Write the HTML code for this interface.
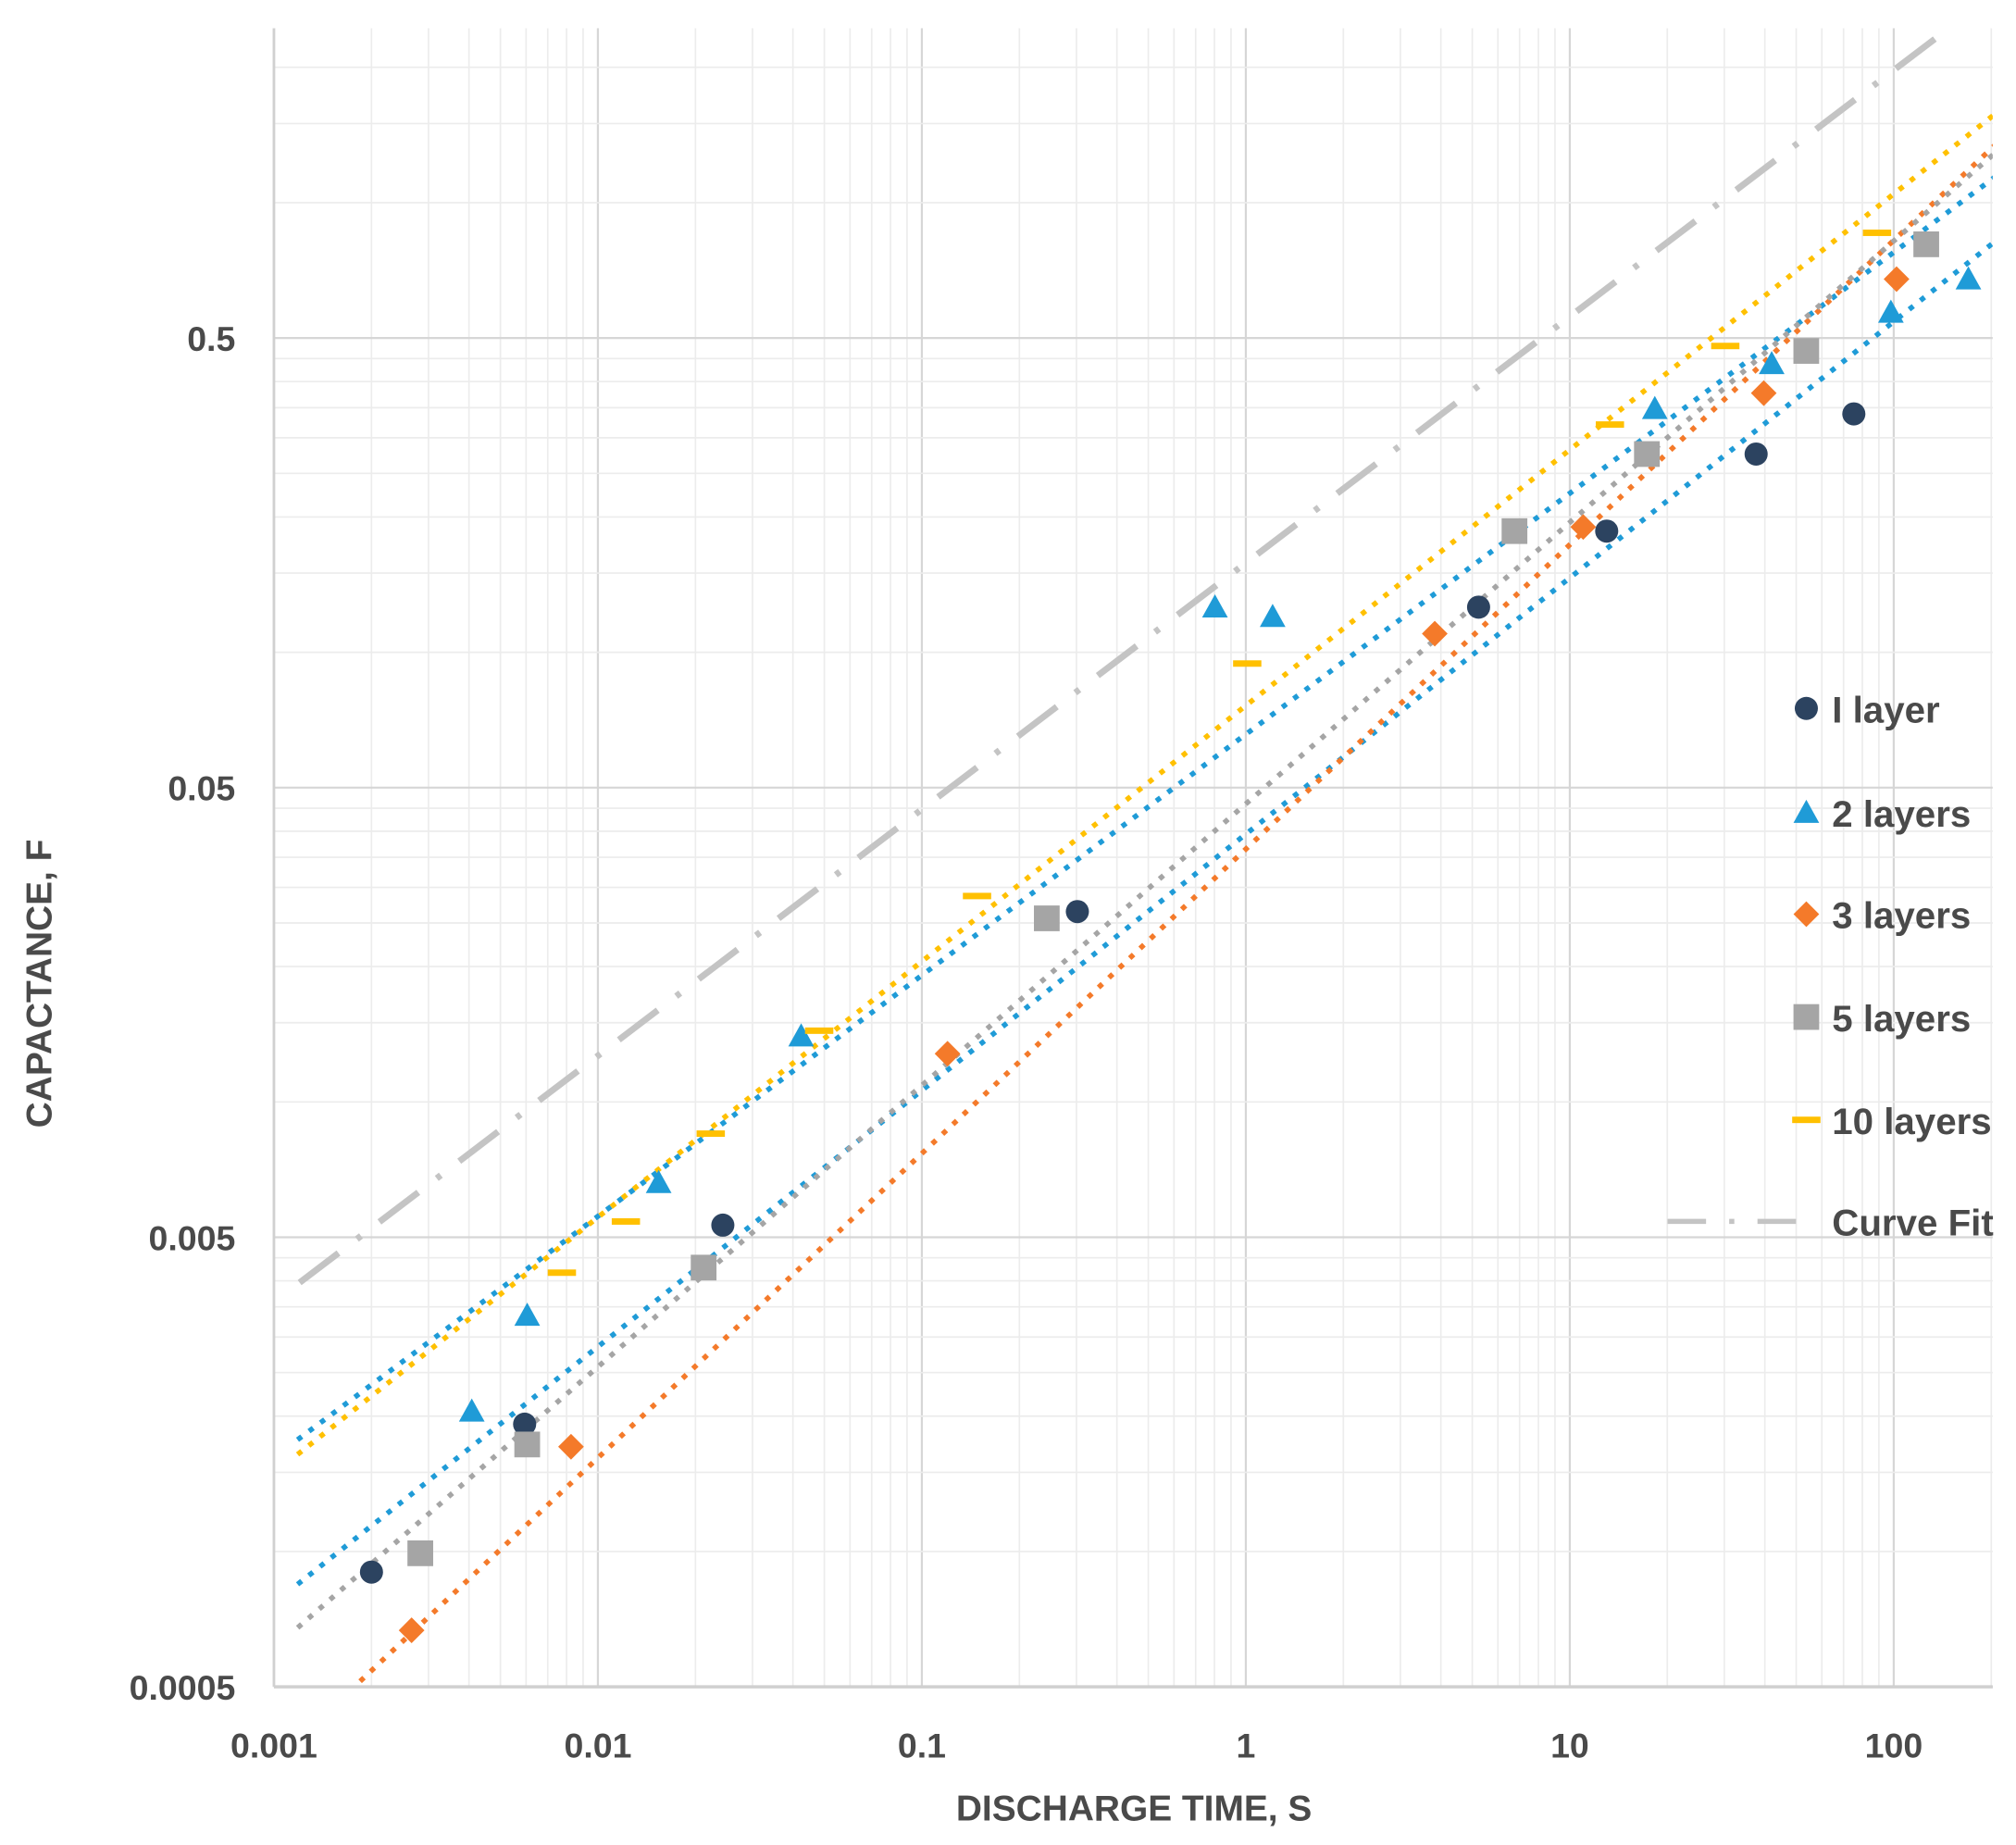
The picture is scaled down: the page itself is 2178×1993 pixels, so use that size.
<!DOCTYPE html>
<html><head><meta charset="utf-8"><style>
html,body{margin:0;padding:0;background:#fff;}
svg{display:block;}
text{font-family:"Liberation Sans",sans-serif;font-weight:bold;fill:#4a4a4a;}
</style></head><body>
<svg id="chart" width="2178" height="1993" viewBox="0 0 1568 1435" xmlns="http://www.w3.org/2000/svg">
<g id="grid"></g>
<g id="trends"></g>
<g id="marks"></g>
<g id="axes"></g>
<g id="legend"></g>
</svg>
<script>
const xTicks=[0.001,0.01,0.1,1,10,100];
const xTickLabels=["0.001","0.01","0.1","1","10","100"];
const yTicks=[0.0005,0.005,0.05,0.5];
const yTickLabels=["0.0005","0.005","0.05","0.5"];
const seriesNames=["I layer","2 layers","3 layers","5 layers","10 layers"];
const x1=[0.002,0.00594,0.0243,0.302,5.23,13.0,37.6,75.3];
const y1=[0.0009,0.00192,0.00532,0.0265,0.126,0.186,0.276,0.339];
const x2=[0.00408,0.00605,0.0154,0.0424,0.803,1.21,18.3,42,98,170];
const y2=[0.00205,0.00335,0.00661,0.014,0.126,0.12,0.348,0.438,0.57,0.676];
const x3=[0.00266,0.00826,0.12,3.83,11.0,39.7,102];
const y3=[0.000668,0.00171,0.0128,0.11,0.19,0.377,0.676];
const x5=[0.00283,0.00605,0.0212,0.243,6.75,17.3,53.7,126];
const y5=[0.000991,0.00173,0.00428,0.0256,0.186,0.276,0.468,0.808];
const x10=[0.00774,0.0122,0.0223,0.0482,0.148,1.01,13.3,30.2,88.8];
const y10=[0.00417,0.00542,0.0085,0.0144,0.0287,0.0944,0.321,0.48,0.857];
// power-law trends: exponent and value at x=1
const trendExp=[0.570,0.536,0.677,0.626,0.569];
const trendAt1=[0.0394,0.0657,0.0365,0.046,0.0761];
const fitExp=0.548, fitAt1=0.158;

const L=213,R=1550,T=22,B=1312;
const sx=v=>L+252*Math.log10(v/0.001);
const sy=v=>B-349.7*Math.log10(v/0.0005);
const NS="http://www.w3.org/2000/svg";
function mk(tag,attrs,parent){const e=document.createElementNS(NS,tag);for(const k in attrs)e.setAttribute(k,attrs[k]);parent.appendChild(e);return e;}
const grid=document.getElementById('grid'),trends=document.getElementById('trends'),marks=document.getElementById('marks'),axes=document.getElementById('axes'),legend=document.getElementById('legend');

// grid
for(let d=0.001;d<150;d*=10){for(let k=1;k<=9;k++){const v=d*k;const x=sx(v);if(x>R)break;
 const ln=mk('line',{x1:x,x2:x,y1:T,y2:B,stroke:k==1?'#d6d6d6':'#ececec','stroke-width':k==1?1.6:1.2},grid);
 }}
for(let d=0.0005;d<5;d*=10){for(let k=1;k<=9;k++){const v=d*k;const y=sy(v);if(y<T)break;
 const ln=mk('line',{x1:L,x2:R,y1:y,y2:y,stroke:k==1?'#d6d6d6':'#ececec','stroke-width':k==1?1.6:1.2},grid);
 }}
const yAxis=mk('line',{x1:L,x2:L,y1:T,y2:B,stroke:'#d0d0d0','stroke-width':2},axes);

const xAxis=mk('line',{x1:L,x2:R,y1:B,y2:B,stroke:'#d0d0d0','stroke-width':2.5},axes);


// clip
const defs=mk('defs',{},document.getElementById('chart'));
const cp=mk('clipPath',{id:'plotclip'},defs);mk('rect',{x:L,y:T,width:R-L,height:B-T},cp);
trends.setAttribute('clip-path','url(#plotclip)');

const colors=['#1f9bd7','#1f9bd7','#f47a2a','#a5a5a5','#ffc000'];
const markColors=['#2c4360','#1f9bd7','#f47a2a','#a5a5a5','#ffc000'];
const xs0=0.0012,xs1=210;
for(let i=0;i<5;i++){
 const f=v=>trendAt1[i]*Math.pow(v,trendExp[i]);
 const ln=mk('line',{x1:sx(xs0),y1:sy(f(xs0)),x2:sx(xs1),y2:sy(f(xs1)),stroke:colors[i],'stroke-width':4,'stroke-dasharray':'0.1 11','stroke-linecap':'square'},trends);
 
}
{const f=v=>fitAt1*Math.pow(v,fitExp);
 const ln=mk('line',{x1:sx(xs0),y1:sy(f(xs0)),x2:sx(xs1),y2:sy(f(xs1)),stroke:'#c4c4c4','stroke-width':5,'stroke-dasharray':'38 18 4 18'},trends);
 }

function marker(type,x,y,parent){
 let e;
 if(type==0)e=mk('circle',{cx:x,cy:y,r:9,fill:markColors[0]},parent);
 else if(type==1)e=mk('polygon',{points:`${x},${y-10} ${x+10},${y+8} ${x-10},${y+8}`,fill:markColors[1]},parent);
 else if(type==2)e=mk('polygon',{points:`${x},${y-10} ${x+10},${y} ${x},${y+10} ${x-10},${y}`,fill:markColors[2]},parent);
 else if(type==3)e=mk('rect',{x:x-10,y:y-10,width:20,height:20,fill:markColors[3]},parent);
 else e=mk('rect',{x:x-11,y:y-2.5,width:22,height:5,fill:markColors[4]},parent);
 return e;
}
const XS=[x1,x2,x3,x5,x10],YS=[y1,y2,y3,y5,y10];
for(let s=0;s<5;s++){for(let j=0;j<XS[s].length;j++){
 const e=marker(s,sx(XS[s][j]),sy(YS[s][j]),marks);
 }}

// tick labels
xTicks.forEach((v,i)=>{const t=mk('text',{x:sx(v),y:1367,'text-anchor':'middle','font-size':27,fill:'#4a4a4a'},axes);t.textContent=xTickLabels[i];
 });
yTicks.forEach((v,i)=>{const t=mk('text',{x:183,y:sy(v)+10,'text-anchor':'end','font-size':27},axes);t.textContent=yTickLabels[i];
 });
const xt=mk('text',{x:882,y:1416,'text-anchor':'middle','font-size':28,fill:'#555'},axes);xt.textContent='DISCHARGE TIME, S';

const yt=mk('text',{x:0,y:0,'text-anchor':'middle','font-size':28,fill:'#555',transform:'translate(40,765) rotate(-90)'},axes);yt.textContent='CAPACTANCE, F';


// legend
const ly=[551,632,711,791,871];
for(let s=0;s<5;s++){
 const g=mk('g',{},legend);
 const m=marker(s,1405,ly[s],g);
 const t=mk('text',{x:1425,y:ly[s]+11,'font-size':29},g);t.textContent=seriesNames[s];
}
{const g=mk('g',{},legend);
 mk('line',{x1:1297,x2:1405,y1:950,y2:950,stroke:'#c4c4c4','stroke-width':4,'stroke-dasharray':'30 18 4 18'},g);
 const t=mk('text',{x:1425,y:961,'font-size':29},g);t.textContent='Curve Fit';}
</script>
</body></html>
